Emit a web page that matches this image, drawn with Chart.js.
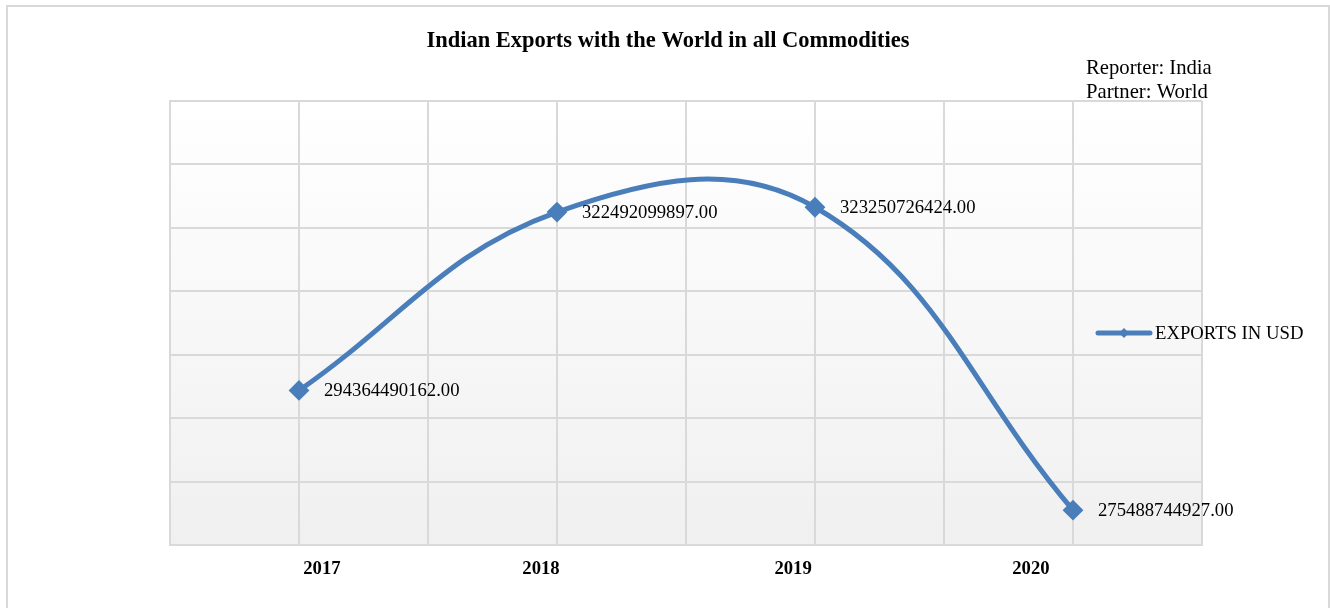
<!DOCTYPE html>
<html>
<head>
<meta charset="utf-8">
<script src="https://cdn.jsdelivr.net/npm/chart.js@4/dist/chart.umd.min.js"></script>
<style>
  html, body { margin: 0; padding: 0; background: #ffffff; }
  #wrap { position: relative; width: 1330px; height: 608px; }
  canvas { display: block; }
</style>
</head>
<body>
<div id="wrap"><canvas id="c" width="1330" height="608"></canvas></div>
<script>
// Chart data
const years = [2017, 2018, 2019, 2020];
const yearLabels = ['2017', '2018', '2019', '2020'];
const exportsUSD = [294364490162, 322492099897, 323250726424, 275488744927];
const seriesName = 'EXPORTS IN USD';
const chartTitle = 'Indian Exports with the World in all Commodities';
const infoLines = ['Reporter: India', 'Partner: World'];

const SERIF = '"Liberation Serif", "Times New Roman", serif';
const LINE_BLUE = '#4a7ebb';
const GRID = '#d9d9d9';

// shift of each year caption along the category axis (in years)
const captionShift = [0.089, -0.062, -0.085, -0.163];

const points = years.map((y, i) => ({ x: y, y: exportsUSD[i] }));

// plot background gradient + outer frame
const backdrop = {
  id: 'backdrop',
  beforeDraw(chart) {
    const { ctx, chartArea: a } = chart;
    ctx.save();
    ctx.fillStyle = '#ffffff';
    ctx.fillRect(0, 0, chart.width, chart.height);
    ctx.strokeStyle = '#d9d9d9';
    ctx.lineWidth = 2;
    ctx.strokeRect(7, 6, 1322, 610);
    const g = ctx.createLinearGradient(0, a.top, 0, a.bottom);
    g.addColorStop(0, '#ffffff');
    g.addColorStop(1, '#f0f0f0');
    ctx.fillStyle = g;
    ctx.fillRect(a.left, a.top, a.right - a.left, a.bottom - a.top);
    ctx.restore();
  }
};

// title, reporter/partner note, value labels and legend
const annotations = {
  id: 'annotations',
  afterDraw(chart) {
    const { ctx } = chart;
    ctx.save();
    ctx.fillStyle = '#000000';
    ctx.textBaseline = 'middle';

    ctx.font = 'bold 22.5px ' + SERIF;
    ctx.textAlign = 'center';
    ctx.fillText(chartTitle, 668, 41);

    ctx.font = '20.7px ' + SERIF;
    ctx.textAlign = 'left';
    infoLines.forEach((t, i) => ctx.fillText(t, 1086, 69 + i * 24));

    ctx.font = '18.7px ' + SERIF;
    const meta = chart.getDatasetMeta(0);
    meta.data.forEach((pt, i) => {
      ctx.fillText(exportsUSD[i].toFixed(2), pt.x + 25, pt.y + 1);
    });

    // legend entry
    const ds = chart.data.datasets[0];
    const ly = 333;
    ctx.strokeStyle = ds.borderColor;
    ctx.lineWidth = 5;
    ctx.lineCap = 'round';
    ctx.beginPath();
    ctx.moveTo(1098, ly);
    ctx.lineTo(1150, ly);
    ctx.stroke();
    ctx.fillStyle = ds.borderColor;
    ctx.beginPath();
    ctx.moveTo(1124 - 5, ly);
    ctx.lineTo(1124, ly - 5);
    ctx.lineTo(1124 + 5, ly);
    ctx.lineTo(1124, ly + 5);
    ctx.closePath();
    ctx.fill();
    ctx.fillStyle = '#000000';
    ctx.fillText(ds.label, 1155, ly + 1);
    ctx.restore();
  }
};

new Chart(document.getElementById('c'), {
  type: 'line',
  data: {
    datasets: [{
      label: seriesName,
      data: points,
      borderColor: LINE_BLUE,
      backgroundColor: LINE_BLUE,
      borderWidth: 5,
      tension: 0.4,
      fill: false,
      pointStyle: 'rectRot',
      pointRadius: 9,
      pointBorderWidth: 2,
      pointBorderColor: LINE_BLUE,
      pointBackgroundColor: LINE_BLUE
    }]
  },
  options: {
    responsive: false,
    animation: false,
    devicePixelRatio: 1,
    layout: { padding: { left: 170, right: 128, top: 101, bottom: 23 } },
    plugins: {
      legend: { display: false },
      title: { display: false },
      tooltip: { enabled: false }
    },
    scales: {
      x: {
        type: 'linear',
        min: 2016.5,
        max: 2020.5,
        afterBuildTicks(s) {
          const t = [];
          for (let v = 2016.5; v <= 2020.5 + 1e-9; v += 0.5) t.push({ value: v });
          s.ticks = t;
        },
        afterFit(s) { s.height = 0; },
        ticks: { display: false },
        grid: { color: GRID, lineWidth: 2, drawTicks: false },
        border: { color: GRID, width: 2 }
      },
      x2: {
        type: 'linear',
        position: 'bottom',
        min: 2016.5,
        max: 2020.5,
        afterBuildTicks(s) {
          s.ticks = years.map((y, i) => ({ value: y + captionShift[i] }));
        },
        afterFit(s) { s.height = 40; },
        grid: { display: false, drawTicks: false },
        border: { display: false },
        ticks: {
          padding: 13,
          autoSkip: false,
          maxRotation: 0,
          color: '#000000',
          font: { family: SERIF, size: 18.7, weight: 'bold' },
          callback: (v, i) => yearLabels[i]
        }
      },
      y: {
        min: 270e9,
        max: 340e9,
        ticks: { display: false, stepSize: 10e9 },
        afterFit(s) { s.width = 0; },
        grid: { color: GRID, lineWidth: 2, drawTicks: false },
        border: { color: GRID, width: 2 }
      }
    }
  },
  plugins: [backdrop, annotations]
});
</script>
</body>
</html>
